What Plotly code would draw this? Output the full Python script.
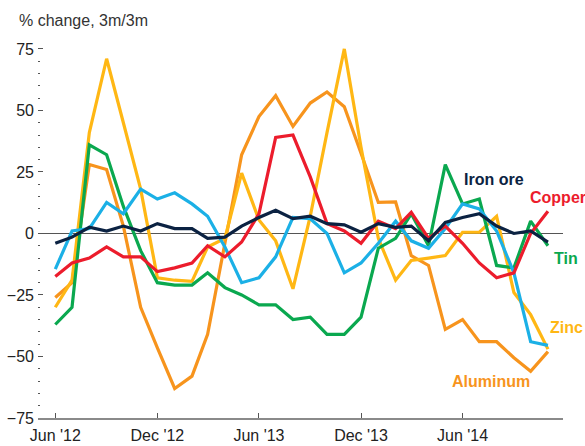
import plotly.graph_objects as go

months = ["2012-06-01", "2012-07-01", "2012-08-01", "2012-09-01", "2012-10-01", "2012-11-01",
          "2012-12-01", "2013-01-01", "2013-02-01", "2013-03-01", "2013-04-01", "2013-05-01",
          "2013-06-01", "2013-07-01", "2013-08-01", "2013-09-01", "2013-10-01", "2013-11-01",
          "2013-12-01", "2014-01-01", "2014-02-01", "2014-03-01", "2014-04-01", "2014-05-01",
          "2014-06-01", "2014-07-01", "2014-08-01", "2014-09-01", "2014-10-01", "2014-11-01"]

aluminum = [-26, -20, 28, 26, 3, -30, -46.5, -63, -58, -41, -4, 32, 47.5, 56, 43.5, 53, 57.5, 51.5,
            32.6, 12.6, 12.8, -9, -13, -39, -35, -44, -44, -50.5, -56, -48]
zinc = [-30, -19, 41, 71, 45, 18, -18, -19, -19.5, -5.5, -2, 24.5, 5.5, -3, -22.5, 7, 41, 75,
        35, -2, -19, -11, -10, -9, 0.5, 0.5, 7, -24, -33, -47]
tin = [-37, -30, 36, 32, 11, -7, -20, -21, -21, -16, -22, -25, -29, -29, -35, -34, -41, -41,
       -34, -6, -2, 8, -5, 28, 12, 14, -13, -14, 5, -5]
nickel = [-14.5, 1, 2, 12.6, 8, 18, 14, 16.5, 12, 7, -5.5, -20, -18, -9.5, 6.5, 6, 0, -16,
          -12, -4, 5, -3, -6, 2, 12, 10, 1, -16, -44, -45.5]
copper = [-17.5, -12, -10, -5.5, -9.5, -9.5, -15.5, -14, -12, -5, -9.5, -3.5, 8, 39, 40, 23, 4, 1,
          -4, 5, 2, 8.6, -2, 3, -4, -12, -18, -16, 0, 9]
iron_ore = [-4, -1.5, 2.5, 1, 3, 1, 4, 2, 2, -2, -1.5, 3, 6.5, 9.4, 6, 7, 4, 3.5,
            0.5, 4, 2.5, 3, -3, 4.5, 6.5, 8, 3, 0, 1, -3.5]

tick_vals = ["2012-06-01", "2012-12-01", "2013-06-01", "2013-12-01", "2014-06-01"]
tick_text = ["Jun '12", "Dec '12", "Jun '13", "Dec '13", "Jun '14"]
y_ticks = [-75, -50, -25, 0, 25, 50, 75]

series = [
    ("Aluminum", aluminum, "#f7941d"),
    ("Zinc", zinc, "#ffb714"),
    ("Tin", tin, "#0aa84f"),
    ("Nickel", nickel, "#1bb0e6"),
    ("Copper", copper, "#ec1c2c"),
    ("Iron ore", iron_ore, "#0b2242"),
]

fig = go.Figure()
for name, vals, col in series:
    fig.add_trace(go.Scatter(x=months, y=vals, mode="lines", name=name,
                             line=dict(color=col, width=3.2)))

fig.update_layout(
    width=585, height=446,
    margin=dict(l=38, r=22, t=44, b=28),
    paper_bgcolor="white", plot_bgcolor="white",
    showlegend=False,
    font=dict(family="Liberation Sans, Arial, sans-serif", size=16, color="#222"),
)
fig.update_xaxes(
    type="date", range=["2012-05-01", "2014-11-28"],
    tickvals=tick_vals, ticktext=tick_text,
    showgrid=False, zeroline=False, automargin=False,
    showline=True, linecolor="#8a8a8a", linewidth=1.5,
    ticks="inside", ticklen=5, tickcolor="#555", tickwidth=1,
    ticklabelstandoff=2,
)
fig.update_yaxes(
    range=[-75, 77], tickvals=y_ticks, automargin=False,
    showgrid=False, showline=False,
    zeroline=True, zerolinecolor="#555", zerolinewidth=1,
    ticks="inside", ticklen=5, tickcolor="#555", tickwidth=1,
    minor=dict(dtick=5, ticks="inside", ticklen=2, tickcolor="#555", tickwidth=1),
    ticklabelstandoff=3,
)

def px2paper(px, py):
    return (px - 38) / 525, (418 - py) / 374

annos = [
    ("% change, 3m/3m", 17, 21, "left", "#333", False),
    ("Iron ore", 493.5, 179, "center", "#0b2242", True),
    ("Copper", 528, 197, "left", "#ec1c2c", True),
    ("Tin", 552, 258, "left", "#0aa84f", True),
    ("Zinc", 548, 327, "left", "#ffb714", True),
    ("Aluminum", 491, 381, "center", "#f7941d", True),
]
for text, px, py, anchor, col, bold in annos:
    x, y = px2paper(px, py)
    fig.add_annotation(text=f"<b>{text}</b>" if bold else text, x=x, y=y,
                       xref="paper", yref="paper", xanchor=anchor, yanchor="middle",
                       showarrow=False, font=dict(size=16, color=col))

fig.write_html("out.html", config={"displayModeBar": False},
               post_script="document.body.style.margin='0';")
